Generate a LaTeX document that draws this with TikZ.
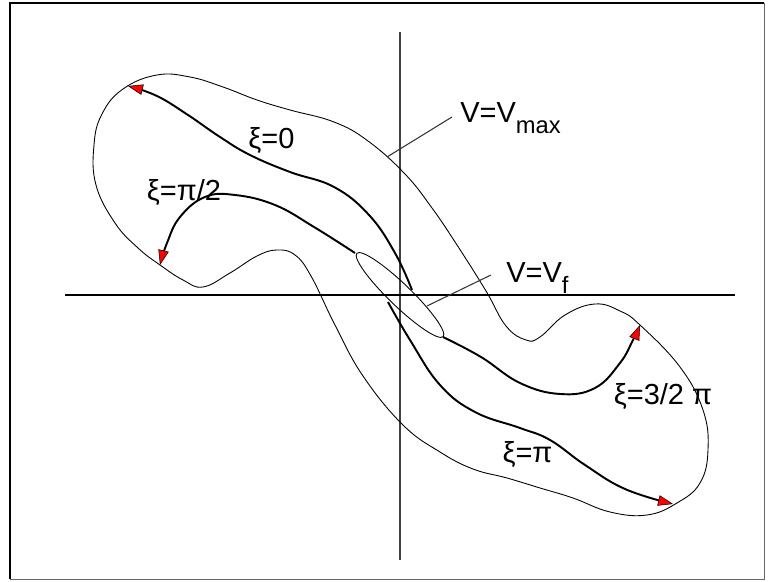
\documentclass[tikz,border=0pt]{standalone}
\usepackage{fontspec}
\setmainfont{Liberation Sans}
\usetikzlibrary{arrows.meta}
\newcommand{\lowsub}[1]{\raisebox{-6pt}{\fontsize{13.5}{15}\selectfont #1}}

\begin{document}
\begin{tikzpicture}[
  every node/.style={font=\fontsize{16.5}{20}\selectfont, inner sep=0pt},
  traj/.style={line width=1.1pt, -{Triangle[length=8.5pt, width=6pt, fill=red, line width=0.3pt]}},
  bound/.style={line width=0.5pt},
  lead/.style={line width=0.6pt, black!80}]
  \useasboundingbox (-8,-5.74) rectangle (7.4,5.9);
  % frame
  \draw[line width=1.1pt] (-7.8,-5.68) -- (-7.8,5.84) -- (7.28,5.84);
  \draw[line width=0.4pt, black!60] (7.28,5.84) -- (7.28,-5.68) -- (-7.8,-5.68);
  % axes
  \draw[line width=0.6pt, black!75] (0,-5.3) -- (0,5.26);
  \draw[line width=0.8pt] (-6.7,0) -- (6.7,0);
  % V = V_max
  \draw[bound] plot[smooth cycle, tension=0.7] coordinates {
    (-5.54,4.12) (-4.86,4.4) (-4.2,4.36) (-3.54,4.16) (-2.86,3.9)
    (-2.2,3.7) (-1.32,3.46) (-0.64,3.08) (0.1,2.42) (0.64,1.74)
    (1.14,1.0) (1.72,0.08) (2.12,-0.62) (2.52,-0.9) (2.8,-0.84) (3.3,-0.4)
    (3.9,-0.18) (4.4,-0.32) (4.8,-0.6) (5.6,-1.44) (6.06,-2.3) (6.16,-3.1)
    (6,-3.76) (5.54,-4.16) (4.94,-4.4) (4.2,-4.34) (3.46,-4.06) (2.8,-3.86)
    (2.14,-3.66) (1.46,-3.48) (0.8,-3.14) (0.06,-2.6) (-0.74,-1.62) (-1.3,-0.6)
    (-1.78,0.38) (-2.1,0.8) (-2.46,0.9) (-2.86,0.78) (-3.4,0.44) (-3.94,0.16)
    (-4.34,0.3) (-4.8,0.6) (-5.24,0.94) (-5.7,1.44) (-6.08,2.2) (-6.12,3.0)
    (-5.96,3.62)};
  % V = V_f
  \draw[bound, rotate=-44] (0,0) ellipse (1.2 and 0.22);
  % trajectories
  \draw[traj] plot[smooth, tension=0.7] coordinates {
    (0.24,0.1) (-0.1,0.84) (-0.62,1.6) (-1.32,2.16) (-2.2,2.46)
    (-3,2.8) (-3.6,3.16) (-4.24,3.6) (-4.86,3.98) (-5.44,4.18)};
  \draw[traj] plot[smooth, tension=0.7] coordinates {
    (-0.9,0.84) (-1.72,1.36) (-2.5,1.8) (-3.3,2.0) (-3.9,1.96)
    (-4.4,1.56) (-4.66,1.04) (-4.8,0.6)};
  \draw[traj] plot[smooth, tension=0.7] coordinates {
    (-0.24,-0.14) (0.2,-0.9) (0.8,-1.8) (1.5,-2.34) (2.4,-2.66)
    (3,-2.9) (3.7,-3.4) (4.5,-3.88) (5.46,-4.18)};
  \draw[traj] plot[smooth, tension=0.7] coordinates {
    (0.86,-0.84) (1.62,-1.24) (2.4,-1.76) (3.2,-1.98) (3.9,-1.86)
    (4.4,-1.36) (4.66,-0.9) (4.8,-0.6)};
  % labels
  \node (xi0)  at (-2.57,3.08) {ξ=0};
  \node (xipi2) at (-4.32,2.04) {ξ=π/2};
  \node (xi32) at (5.26,-2.04) {ξ=3/2 π};
  \node (xipi) at (2.55,-3.2) {ξ=π};
  \node[anchor=base west] (vmax) at (1.2,3.44) {V=V\lowsub{max}};
  \node[anchor=base west] (vf) at (2.12,0.24) {V=V\lowsub{f}};
  \coordinate (vmaxpt) at (-0.26,2.76);
  \coordinate (vfpt) at (0.54,-0.22);
  \draw[lead] (vmaxpt) -- ([shift={(-0.16,0.12)}]vmax.base west);
  \draw[lead] (vfpt) -- ([shift={(-0.3,0.16)}]vf.base west);
\end{tikzpicture}
\end{document}
